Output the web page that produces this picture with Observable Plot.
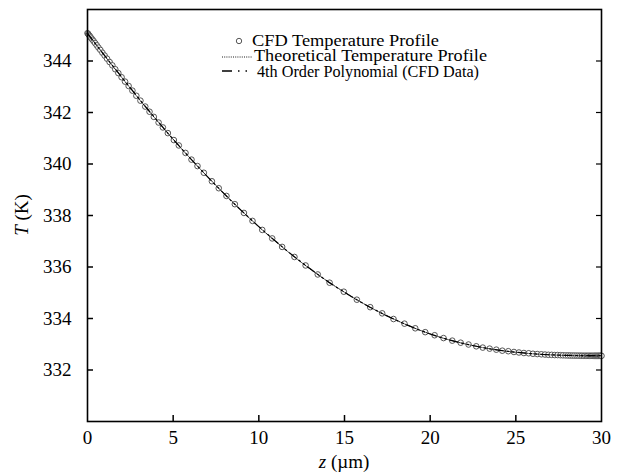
<!DOCTYPE html>
<html>
<head>
<meta charset="utf-8">
<script src="https://cdn.jsdelivr.net/npm/d3@7"></script>
<script src="https://cdn.jsdelivr.net/npm/@observablehq/plot@0.6"></script>
<style>
  html, body { margin: 0; padding: 0; background: #fff; }
</style>
</head>
<body>
<div id="chart"></div>
<script>
// CFD temperature profile points (z in µm, T in K)
const cfdZ = [0, 0.04, 0.08, 0.13, 0.18, 0.24, 0.30, 0.37, 0.45, 0.54, 0.64, 0.75, 0.87, 1.00, 1.14, 1.29, 1.45, 1.62, 1.80, 1.99, 2.19, 2.40, 2.62, 2.85, 3.09, 3.37, 3.62, 3.87, 4.15, 4.40, 4.69, 5.04, 5.33, 5.72, 6.07, 6.42, 6.79, 7.26, 7.66, 8.11, 8.60, 9.13, 9.63, 10.20, 10.78, 11.36, 12.08, 12.73, 13.44, 14.13, 14.96, 15.72, 16.50, 17.20, 17.86, 18.50, 19.13, 19.71, 20.26, 20.78, 21.29, 21.78, 22.24, 22.69, 23.07, 23.47, 23.86, 24.21, 24.56, 24.89, 25.18, 25.47, 25.75, 26.00, 26.25, 26.49, 26.70, 26.90, 27.09, 27.27, 27.44, 27.60, 27.75, 27.90, 28.04, 28.17, 28.30, 28.42, 28.54, 28.65, 28.76, 28.86, 28.96, 29.05, 29.14, 29.22, 29.30, 29.38, 29.45, 29.52, 29.59, 29.65, 29.71, 29.77, 29.82, 29.87, 29.92, 29.96, 30.00];
const cfdT = [345.08, 345.05, 345.01, 344.97, 344.92, 344.87, 344.82, 344.76, 344.69, 344.61, 344.52, 344.43, 344.32, 344.21, 344.09, 343.96, 343.83, 343.68, 343.53, 343.37, 343.20, 343.03, 342.85, 342.65, 342.46, 342.23, 342.03, 341.83, 341.61, 341.42, 341.20, 340.93, 340.72, 340.43, 340.17, 339.92, 339.66, 339.33, 339.06, 338.76, 338.44, 338.10, 337.79, 337.44, 337.11, 336.78, 336.39, 336.06, 335.71, 335.39, 335.04, 334.73, 334.44, 334.20, 333.98, 333.80, 333.62, 333.47, 333.35, 333.24, 333.14, 333.06, 332.99, 332.92, 332.87, 332.83, 332.79, 332.75, 332.73, 332.70, 332.68, 332.66, 332.65, 332.63, 332.62, 332.61, 332.60, 332.59, 332.588, 332.58, 332.58, 332.575, 332.57, 332.567, 332.565, 332.563, 332.561, 332.56, 332.559, 332.557, 332.556, 332.555, 332.553, 332.553, 332.553, 332.552, 332.552, 332.552, 332.551, 332.551, 332.551, 332.551, 332.550, 332.55, 332.55, 332.55, 332.55, 332.55, 332.55];

// Theoretical profile and 4th-order polynomial fit, sampled at integer z
const lineZ = [0, 1, 2, 3, 4, 5, 6, 7, 8, 9, 10, 11, 12, 13, 14, 15, 16, 17, 18, 19, 20, 21, 22, 23, 24, 25, 26, 27, 28, 29, 30];
const theoryT = [345.08, 344.21, 343.36, 342.53, 341.73, 340.96, 340.22, 339.51, 338.83, 338.18, 337.56, 336.98, 336.43, 335.92, 335.45, 335.02, 334.62, 334.26, 333.94, 333.65, 333.40, 333.19, 333.02, 332.88, 332.77, 332.69, 332.63, 332.59, 332.565, 332.553, 332.55];
const polyT   = [345.07, 344.21, 343.37, 342.54, 341.74, 340.96, 340.22, 339.51, 338.83, 338.18, 337.57, 336.99, 336.44, 335.93, 335.45, 335.02, 334.62, 334.26, 333.94, 333.65, 333.40, 333.19, 333.02, 332.88, 332.77, 332.69, 332.63, 332.59, 332.57, 332.56, 332.56];

const xTicks = [0, 5, 10, 15, 20, 25, 30];
const yTicks = [332, 334, 336, 338, 340, 342, 344];

const cfd = cfdZ.map((z, i) => ({z, T: cfdT[i]}));
const theory = lineZ.map((z, i) => ({z, T: theoryT[i]}));
const poly = lineZ.map((z, i) => ({z, T: polyT[i]}));

const W = 620, H = 474;
const mL = 87, mR = 19, mT = 9, mB = 53;
const pW = W - mL - mR, pH = H - mT - mB;

const chart = Plot.plot({
  width: W,
  height: H,
  marginLeft: mL,
  marginRight: mR,
  marginTop: mT,
  marginBottom: mB,
  style: {fontFamily: "'Liberation Serif', 'Times New Roman', serif", fontSize: "19px", color: "#000", background: "#fff"},
  x: {domain: [0, 30], ticks: xTicks, tickSize: 0, tickPadding: 9, label: null},
  y: {domain: [330, 346], ticks: yTicks, tickSize: 0, tickPadding: 16, label: null},
  marks: [
    Plot.dot(cfd, {x: "z", y: "T", r: 2.8, fill: "#fff", stroke: "#444", strokeWidth: 0.9}),
    Plot.line(theory, {x: "z", y: "T", curve: "natural", stroke: "#000", strokeWidth: 0.9, strokeDasharray: "1,1.2"}),
    Plot.line(poly, {x: "z", y: "T", curve: "natural", stroke: "#000", strokeWidth: 1.2, strokeDasharray: "8,4,1.5,4,1.5,4"}),
    Plot.tickY(yTicks, {y: d => d, insetRight: pW - 6, stroke: "#000", strokeWidth: 1.5}),
    Plot.tickY(yTicks, {y: d => d, insetLeft: pW - 5, stroke: "#000", strokeWidth: 1.2}),
    Plot.tickX(xTicks.slice(1, -1), {x: d => d, insetTop: pH - 6, stroke: "#000", strokeWidth: 1.5}),
    Plot.frame({stroke: "#000", strokeWidth: 1.6})
  ]
});

document.getElementById("chart").appendChild(chart);

// Axis titles and legend (real text)
const svg = d3.select(chart);
const serif = "'Liberation Serif', 'Times New Roman', serif";

const xl = svg.append("text")
  .attr("x", mL + pW / 2).attr("y", 468)
  .attr("text-anchor", "middle").attr("font-family", serif).attr("font-size", 19).attr("fill", "#000");
xl.append("tspan").attr("font-style", "italic").text("z");
xl.append("tspan").text(" (µm)");

const yl = svg.append("text")
  .attr("transform", `translate(28, ${mT + pH / 2}) rotate(-90)`)
  .attr("text-anchor", "middle").attr("font-family", serif).attr("font-size", 19).attr("fill", "#000");
yl.append("tspan").attr("font-style", "italic").text("T");
yl.append("tspan").text(" (K)");

const lg = svg.append("g").attr("font-family", serif).attr("font-size", 16).attr("fill", "#000").attr("text-anchor", "start");
lg.append("circle").attr("cx", 239).attr("cy", 41).attr("r", 2.7)
  .attr("fill", "#fff").attr("stroke", "#444").attr("stroke-width", 0.9);
lg.append("text").attr("x", 252).attr("y", 45.7).attr("text-anchor", "start")
  .attr("textLength", 187).attr("lengthAdjust", "spacingAndGlyphs").text("CFD Temperature Profile");
lg.append("line").attr("x1", 222).attr("x2", 252).attr("y1", 57).attr("y2", 57)
  .attr("stroke", "#000").attr("stroke-width", 0.9).attr("stroke-dasharray", "1,1.2");
lg.append("text").attr("x", 254).attr("y", 61).attr("text-anchor", "start")
  .attr("textLength", 233).attr("lengthAdjust", "spacingAndGlyphs").text("Theoretical Temperature Profile");
lg.append("line").attr("x1", 222).attr("x2", 256).attr("y1", 71).attr("y2", 71)
  .attr("stroke", "#000").attr("stroke-width", 1.3).attr("stroke-dasharray", "10,6,1.5,6,1.5,20");
lg.append("text").attr("x", 257).attr("y", 76.5).attr("text-anchor", "start")
  .attr("textLength", 222).attr("lengthAdjust", "spacingAndGlyphs").text("4th Order Polynomial (CFD Data)");
</script>
</body>
</html>
